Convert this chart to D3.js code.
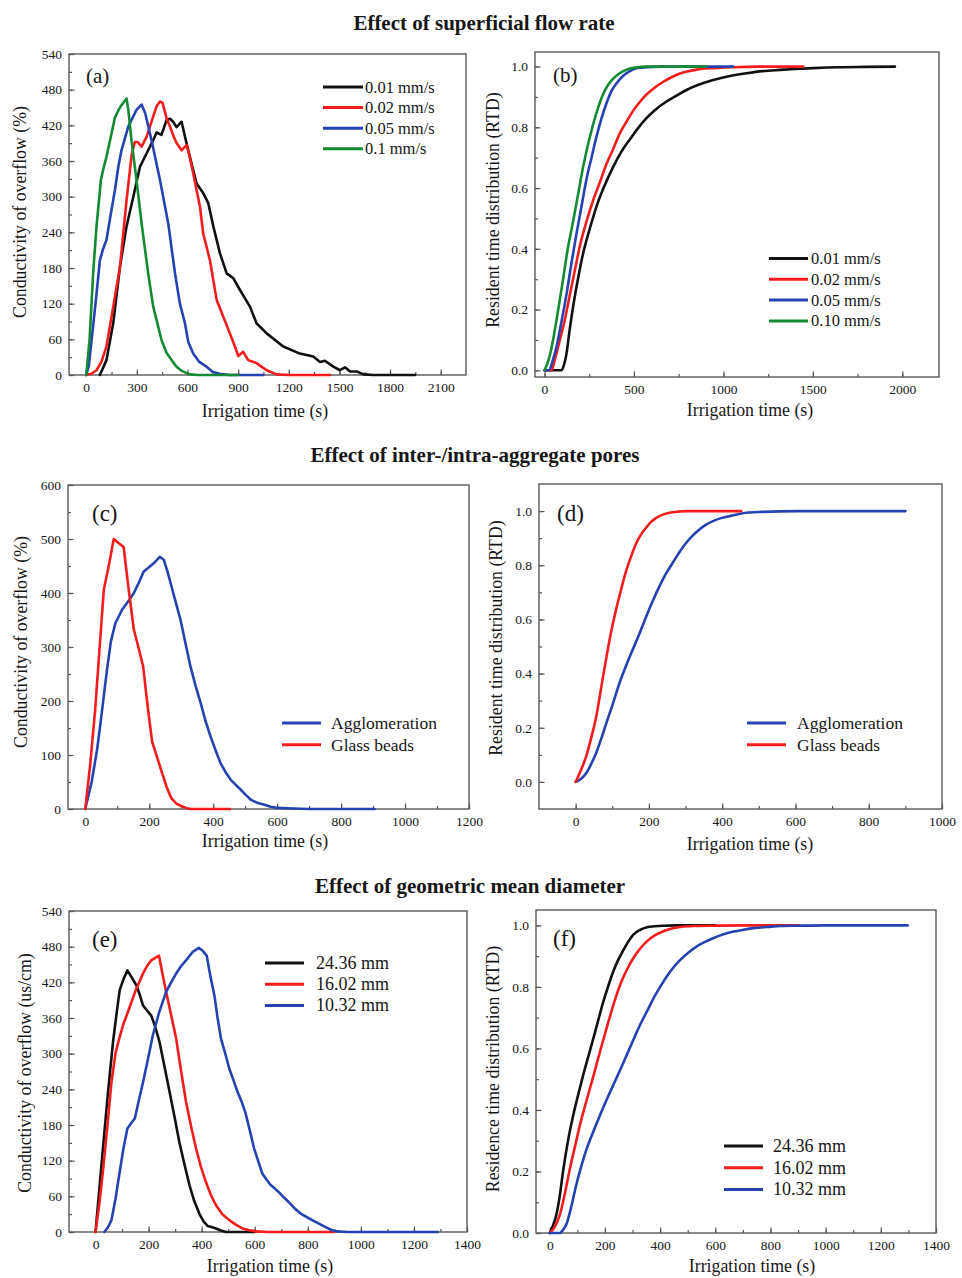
<!DOCTYPE html>
<html>
<head>
<meta charset="utf-8">
<script src="https://cdn.jsdelivr.net/npm/d3@7/dist/d3.min.js"></script>
<style>
  html, body { margin: 0; padding: 0; background: #fff; }
  svg { display: block; }
  text { font-family: "Liberation Serif", "Times New Roman", serif; fill: #161616; }
</style>
</head>
<body>
<svg id="fig" width="962" height="1278"></svg>
<script>
// ---------- Section titles ----------
const sectionTitles = [
  "Effect of superficial flow rate",
  "Effect of inter-/intra-aggregate pores",
  "Effect of geometric mean diameter"
];

// ---------- (a) conductivity vs. time, superficial flow rate ----------
const flowLabelsA = ["0.01 mm/s", "0.02 mm/s", "0.05 mm/s", "0.1 mm/s"];
const flowLabelsB = ["0.01 mm/s", "0.02 mm/s", "0.05 mm/s", "0.10 mm/s"];
const condFlow001 = [[81,0],[120,25],[160,87],[200,182],[239,250],[279,300],[318,350],[358,373],[397,395],[417,408],[446,404],[476,429],[496,431],[515,426],[535,417],[565,426],[585,401],[614,367],[654,322],[693,306],[723,289],[753,250],[792,205],[832,171],[871,163],[911,143],[970,115],[1009,87],[1069,70],[1167,48],[1266,36],[1345,31],[1385,22],[1414,24],[1464,14],[1503,8],[1533,13],[1563,6],[1602,6],[1642,1],[1701,0],[1948,0]];
const condFlow002 = [[0,0],[30,2],[61,8],[90,22],[120,48],[160,115],[200,182],[239,294],[269,370],[288,392],[305,392],[328,384],[358,401],[397,435],[417,452],[437,460],[452,458],[476,432],[496,418],[520,400],[536,390],[565,378],[595,387],[615,365],[634,339],[674,283],[693,238],[733,193],[773,126],[812,98],[851,70],[881,48],[901,32],[930,39],[960,25],[1009,20],[1069,8],[1128,1],[1200,0],[1444,0]];
const condFlow005 = [[0,0],[15,15],[32,59],[55,120],[81,193],[100,212],[120,227],[145,270],[170,311],[190,350],[209,378],[249,418],[298,446],[328,455],[350,440],[387,395],[437,328],[486,255],[526,171],[555,120],[585,87],[605,55],[634,36],[670,22],[713,14],[750,5],[792,2],[850,0],[1049,0]];
const condFlow010 = [[0,0],[20,60],[41,171],[61,250],[87,328],[100,345],[120,367],[145,400],[170,433],[190,445],[209,454],[239,465],[250,445],[268,395],[298,328],[328,255],[367,171],[397,115],[446,59],[475,38],[506,25],[535,14],[565,7],[614,1],[660,0],[900,0]];

// ---------- (b) RTD, superficial flow rate ----------
const rtdFlow001 = [[0,0],[95,0],[110,0.02],[123,0.055],[140,0.13],[160,0.21],[190,0.31],[216,0.385],[250,0.46],[291,0.54],[330,0.6],[384,0.67],[430,0.72],[477,0.76],[520,0.795],[570,0.83],[620,0.858],[682,0.885],[740,0.905],[794,0.923],[860,0.94],[943,0.956],[1030,0.968],[1130,0.978],[1220,0.985],[1316,0.989],[1400,0.992],[1502,0.995],[1650,0.998],[1800,0.999],[1959,1.0]];
const rtdFlow002 = [[0,0],[39,0],[60,0.04],[86,0.1],[115,0.17],[142,0.25],[170,0.33],[198,0.41],[235,0.49],[272,0.56],[310,0.62],[347,0.68],[385,0.73],[421,0.78],[460,0.82],[496,0.855],[535,0.885],[570,0.908],[615,0.93],[664,0.95],[710,0.965],[757,0.977],[850,0.99],[943,0.995],[1050,0.998],[1200,1.0],[1446,1.0]];
const rtdFlow005 = [[0,0],[25,0],[45,0.03],[67,0.077],[95,0.16],[123,0.25],[150,0.35],[179,0.45],[207,0.54],[235,0.63],[263,0.70],[291,0.77],[319,0.83],[347,0.88],[375,0.92],[403,0.945],[440,0.97],[477,0.985],[520,0.995],[570,0.998],[650,1.0],[1055,1.0]];
const rtdFlow010 = [[0,0],[15,0.02],[30,0.05],[48,0.1],[67,0.165],[85,0.23],[104,0.3],[130,0.4],[160,0.49],[188,0.58],[216,0.67],[244,0.745],[272,0.81],[300,0.865],[328,0.91],[356,0.94],[384,0.96],[420,0.978],[459,0.99],[510,0.997],[570,1.0],[906,1.0]];

// ---------- (c), (d) pore structure ----------
const poreLabels = ["Agglomeration", "Glass beads"];
const condAgglom = [[0,0],[20,50],[37,110],[52,180],[68,258],[80,310],[94,344],[115,369],[135,385],[152,400],[168,420],[183,440],[200,448],[214,455],[233,467],[246,461],[257,440],[267,418],[282,385],[298,350],[314,305],[329,264],[345,228],[361,196],[376,163],[392,134],[408,108],[423,85],[440,67],[455,54],[470,45],[486,36],[500,27],[518,17],[540,11],[560,8],[580,4],[601,2],[650,1],[700,0],[905,0]];
const condGlass = [[0,0],[15,80],[31,184],[45,300],[58,406],[75,455],[89,500],[105,492],[120,485],[135,410],[152,332],[166,300],[181,264],[195,190],[209,125],[225,95],[240,67],[255,40],[269,20],[285,10],[298,6],[315,2],[329,0],[453,0]];
const rtdAgglom = [[0,0],[15,0.012],[29,0.033],[42,0.065],[56,0.107],[70,0.16],[84,0.218],[102,0.29],[120,0.366],[138,0.43],[156,0.489],[175,0.55],[193,0.612],[211,0.67],[229,0.723],[247,0.77],[265,0.809],[284,0.85],[302,0.883],[320,0.91],[338,0.932],[356,0.95],[375,0.963],[397,0.974],[420,0.981],[443,0.988],[465,0.994],[510,0.997],[556,0.999],[650,1.0],[900,1.0]];
const rtdGlass = [[0,0],[15,0.045],[29,0.095],[42,0.16],[56,0.24],[70,0.35],[84,0.46],[97,0.555],[111,0.64],[125,0.715],[138,0.78],[152,0.835],[165,0.88],[179,0.915],[193,0.94],[206,0.96],[220,0.975],[238,0.987],[256,0.994],[280,0.998],[302,1.0],[452,1.0]];

// ---------- (e), (f) geometric mean diameter ----------
const diamLabels = ["24.36 mm", "16.02 mm", "10.32 mm"];
const condD24 = [[0,0],[29,146],[48,240],[66,320],[80,370],[91,407],[105,425],[120,440],[137,428],[154,415],[166,400],[179,381],[195,372],[210,364],[225,345],[241,320],[260,278],[279,236],[298,193],[316,151],[335,114],[354,79],[372,52],[391,31],[407,18],[423,10],[440,8],[454,6],[470,3],[491,0],[600,0]];
const condD16 = [[0,0],[15,50],[29,107],[45,180],[60,252],[75,300],[89,325],[105,350],[122,370],[150,405],[179,435],[195,448],[210,457],[239,465],[252,435],[266,404],[285,365],[304,325],[322,272],[341,219],[360,178],[379,140],[397,110],[416,84],[435,62],[454,45],[478,30],[504,20],[530,12],[554,6],[580,3],[604,1],[650,0],[900,0]];
const condD10 = [[33,0],[47,8],[60,20],[75,55],[91,101],[105,140],[120,174],[134,183],[148,191],[165,225],[179,252],[198,292],[216,331],[240,370],[266,404],[285,420],[304,435],[322,447],[341,457],[366,471],[389,478],[404,473],[419,465],[433,430],[448,398],[460,360],[473,325],[489,300],[504,275],[520,255],[535,236],[550,220],[566,199],[582,170],[598,140],[614,118],[629,98],[645,88],[660,79],[676,73],[691,67],[710,58],[729,50],[750,40],[773,31],[800,24],[829,17],[860,10],[891,3],[910,1],[950,0],[1291,0]];
const rtdD24 = [[0,0],[12,0.025],[24,0.06],[36,0.12],[48,0.2],[66,0.3],[85,0.383],[103,0.45],[121,0.513],[140,0.575],[158,0.633],[176,0.693],[194,0.752],[212,0.803],[230,0.85],[248,0.888],[267,0.92],[285,0.948],[303,0.97],[327,0.985],[352,0.994],[380,0.997],[412,0.999],[460,1.0],[600,1.0]];
const rtdD16 = [[0,0],[18,0.02],[36,0.058],[55,0.13],[73,0.21],[91,0.28],[109,0.35],[133,0.43],[158,0.51],[182,0.59],[206,0.666],[230,0.74],[255,0.807],[279,0.855],[303,0.894],[327,0.924],[352,0.948],[382,0.968],[412,0.981],[442,0.99],[473,0.995],[530,0.998],[594,0.999],[700,1.0],[903,1.0]];
const rtdD10 = [[0,0],[36,0],[48,0.01],[61,0.03],[79,0.09],[97,0.16],[115,0.22],[133,0.272],[158,0.33],[182,0.383],[206,0.433],[230,0.481],[255,0.53],[279,0.579],[303,0.628],[327,0.676],[352,0.72],[376,0.763],[400,0.8],[424,0.834],[448,0.863],[473,0.888],[503,0.912],[533,0.932],[564,0.947],[594,0.959],[630,0.971],[667,0.98],[703,0.986],[739,0.991],[790,0.995],[836,0.998],[900,0.999],[1000,1.0],[1297,1.0]];

// ---------- Axis ticks ----------
const ticksTime300 = [0,300,600,900,1200,1500,1800,2100];
const ticksTime500 = [0,500,1000,1500,2000];
const ticksTime200to1200 = [0,200,400,600,800,1000,1200];
const ticksTime200to1000 = [0,200,400,600,800,1000];
const ticksTime200to1400 = [0,200,400,600,800,1000,1200,1400];
const ticksCond540 = [0,60,120,180,240,300,360,420,480,540];
const ticksCond600 = [0,100,200,300,400,500,600];
const ticksRtd = [0,0.2,0.4,0.6,0.8,1.0];

const BLACK = "#111111", RED = "#f41c1c", BLUE = "#2542b0", GREEN = "#138a33";

const xTitle = "Irrigation time (s)";

const svg = d3.select("#fig");

function drawPanel(p) {
  const [x0, y0, x1, y1] = p.box;
  const g = svg.append("g");
  const x = d3.scaleLinear().domain(p.xDom).range([x0, x1]);
  const y = d3.scaleLinear().domain(p.yDom).range([y1, y0]);

  // minor ticks
  const xMinor = d3.range(p.xMajor[0], p.xMajor[p.xMajor.length - 1] + 1e-9, p.xMinorStep)
    .filter(v => v >= p.xDom[0] && v <= p.xDom[1]);
  const yMinor = d3.range(p.yMajor[0], p.yMajor[p.yMajor.length - 1] + 1e-9, p.yMinorStep)
    .filter(v => v >= p.yDom[0] && v <= p.yDom[1]);

  const gxMinor = g.append("g").attr("transform", `translate(0,${y1})`)
    .call(d3.axisBottom(x).tickValues(xMinor).tickSizeInner(-3).tickSizeOuter(0).tickFormat(""));
  const gyMinor = g.append("g").attr("transform", `translate(${x0},0)`)
    .call(d3.axisLeft(y).tickValues(yMinor).tickSizeInner(-3).tickSizeOuter(0).tickFormat(""));

  const gx = g.append("g").attr("transform", `translate(0,${y1})`)
    .call(d3.axisBottom(x).tickValues(p.xMajor).tickSizeInner(-5.5).tickSizeOuter(0)
      .tickPadding(7).tickFormat(d3.format("d")));
  const gy = g.append("g").attr("transform", `translate(${x0},0)`)
    .call(d3.axisLeft(y).tickValues(p.yMajor).tickSizeInner(-5.5).tickSizeOuter(0)
      .tickPadding(7).tickFormat(p.yFormat));

  [gxMinor, gyMinor, gx, gy].forEach(a => {
    a.select(".domain").remove();
    a.selectAll(".tick line").attr("stroke", "#555").attr("stroke-width", 1.2);
    a.selectAll("text").attr("font-size", 13.5).attr("fill", "#1c1c1c")
      .attr("font-family", "Liberation Serif, Times New Roman, serif");
  });

  // frame
  g.append("rect").attr("x", x0).attr("y", y0).attr("width", x1 - x0).attr("height", y1 - y0)
    .attr("fill", "none").attr("stroke", "#5a5a5a").attr("stroke-width", 1.4);

  // series
  const line = d3.line().x(d => x(d[0])).y(d => y(d[1])).curve(p.curve);
  p.series.forEach(s => {
    g.append("path").datum(s.data).attr("d", line)
      .attr("fill", "none").attr("stroke", s.color).attr("stroke-width", 2.6)
      .attr("stroke-linejoin", "round").attr("stroke-linecap", "round");
  });

  // axis titles
  g.append("text").attr("x", p.xTitlePos[0]).attr("y", p.xTitlePos[1])
    .attr("text-anchor", "middle").attr("dominant-baseline", "middle")
    .attr("font-size", 17.8).text(xTitle);
  g.append("text")
    .attr("transform", `translate(${p.yTitlePos[0]},${p.yTitlePos[1]}) rotate(-90)`)
    .attr("text-anchor", "middle").attr("dominant-baseline", "middle")
    .attr("font-size", 17.8).text(p.yTitle);

  // panel letter
  g.append("text").attr("x", p.tag[0]).attr("y", p.tag[1])
    .attr("font-size", p.tagSize).text(p.tagText);

  // legend
  const L = p.legend;
  p.series.forEach((s, i) => {
    const ly = L.y + i * L.dy;
    g.append("line").attr("x1", L.x1).attr("x2", L.x2).attr("y1", ly).attr("y2", ly)
      .attr("stroke", s.color).attr("stroke-width", 3);
    g.append("text").attr("x", L.tx).attr("y", ly).attr("dominant-baseline", "central")
      .attr("font-size", L.size).text(s.label);
  });
}

const fmtInt = d3.format("d");
const fmtRtd = d3.format(".1f");

const panels = [
  { box: [69, 54, 466, 375], xDom: [-102, 2250], yDom: [0, 540],
    xMajor: ticksTime300, xMinorStep: 150, yMajor: ticksCond540, yMinorStep: 30, yFormat: fmtInt,
    curve: d3.curveLinear, yTitle: "Conductivity of overflow (%)",
    xTitlePos: [265, 413], yTitlePos: [22, 212], tag: [86, 83], tagSize: 21, tagText: "(a)",
    legend: { x1: 323, x2: 363, tx: 365, y: 87, dy: 20.6, size: 16.5 },
    series: [
      { data: condFlow001, color: BLACK, label: flowLabelsA[0] },
      { data: condFlow002, color: RED, label: flowLabelsA[1] },
      { data: condFlow005, color: BLUE, label: flowLabelsA[2] },
      { data: condFlow010, color: GREEN, label: flowLabelsA[3] } ] },
  { box: [535, 52, 939, 377], xDom: [-53, 2205], yDom: [-0.022, 1.048],
    xMajor: ticksTime500, xMinorStep: 250, yMajor: ticksRtd, yMinorStep: 0.1, yFormat: fmtRtd,
    curve: d3.curveMonotoneX, yTitle: "Resident  time distribution (RTD)",
    xTitlePos: [750, 412], yTitlePos: [495, 210], tag: [553, 82], tagSize: 21, tagText: "(b)",
    legend: { x1: 769, x2: 808, tx: 811, y: 258.5, dy: 20.8, size: 16.5 },
    series: [
      { data: rtdFlow001, color: BLACK, label: flowLabelsB[0] },
      { data: rtdFlow002, color: RED, label: flowLabelsB[1] },
      { data: rtdFlow005, color: BLUE, label: flowLabelsB[2] },
      { data: rtdFlow010, color: GREEN, label: flowLabelsB[3] } ] },
  { box: [68, 485, 469, 809], xDom: [-54, 1200], yDom: [0, 600],
    xMajor: ticksTime200to1200, xMinorStep: 100, yMajor: ticksCond600, yMinorStep: 50, yFormat: fmtInt,
    curve: d3.curveLinear, yTitle: "Conductivity of overflow (%)",
    xTitlePos: [265, 843], yTitlePos: [23, 642], tag: [92, 521], tagSize: 23, tagText: "(c)",
    legend: { x1: 282, x2: 321, tx: 331, y: 723, dy: 21.7, size: 17.5 },
    series: [
      { data: condAgglom, color: BLUE, label: poreLabels[0] },
      { data: condGlass, color: RED, label: poreLabels[1] } ] },
  { box: [539, 484, 942, 809], xDom: [-100, 1000], yDom: [-0.1, 1.1],
    xMajor: ticksTime200to1000, xMinorStep: 100, yMajor: ticksRtd, yMinorStep: 0.1, yFormat: fmtRtd,
    curve: d3.curveMonotoneX, yTitle: "Resident  time distribution (RTD)",
    xTitlePos: [750, 846], yTitlePos: [498, 638], tag: [557, 521], tagSize: 23, tagText: "(d)",
    legend: { x1: 747, x2: 786, tx: 797, y: 723, dy: 21.7, size: 17.5 },
    series: [
      { data: rtdAgglom, color: BLUE, label: poreLabels[0] },
      { data: rtdGlass, color: RED, label: poreLabels[1] } ] },
  { box: [69, 911, 467, 1232], xDom: [-100, 1400], yDom: [0, 540],
    xMajor: ticksTime200to1400, xMinorStep: 100, yMajor: ticksCond540, yMinorStep: 30, yFormat: fmtInt,
    curve: d3.curveLinear, yTitle: "Conductivity of overflow (us/cm)",
    xTitlePos: [270, 1268], yTitlePos: [27, 1073], tag: [92, 947], tagSize: 23, tagText: "(e)",
    legend: { x1: 265, x2: 304, tx: 316, y: 963, dy: 21.2, size: 18 },
    series: [
      { data: condD24, color: BLACK, label: diamLabels[0] },
      { data: condD16, color: RED, label: diamLabels[1] },
      { data: condD10, color: BLUE, label: diamLabels[2] } ] },
  { box: [536, 910, 936, 1233], xDom: [-50, 1400], yDom: [0, 1.05],
    xMajor: ticksTime200to1400, xMinorStep: 100, yMajor: ticksRtd, yMinorStep: 0.1, yFormat: fmtRtd,
    curve: d3.curveMonotoneX, yTitle: "Residence time distribution (RTD)",
    xTitlePos: [752, 1268], yTitlePos: [495, 1069], tag: [553, 946], tagSize: 23, tagText: "(f)",
    legend: { x1: 724, x2: 763, tx: 773, y: 1146, dy: 21.7, size: 18 },
    series: [
      { data: rtdD24, color: BLACK, label: diamLabels[0] },
      { data: rtdD16, color: RED, label: diamLabels[1] },
      { data: rtdD10, color: BLUE, label: diamLabels[2] } ] }
];

panels.forEach(drawPanel);

// section headings
const titleY = [30, 461.5, 893];
const titleX = [484, 475, 470];
sectionTitles.forEach((t, i) => {
  svg.append("text").attr("x", titleX[i]).attr("y", titleY[i])
    .attr("text-anchor", "middle").attr("font-weight", "bold")
    .attr("font-size", 21).text(t);
});
</script>
</body>
</html>
